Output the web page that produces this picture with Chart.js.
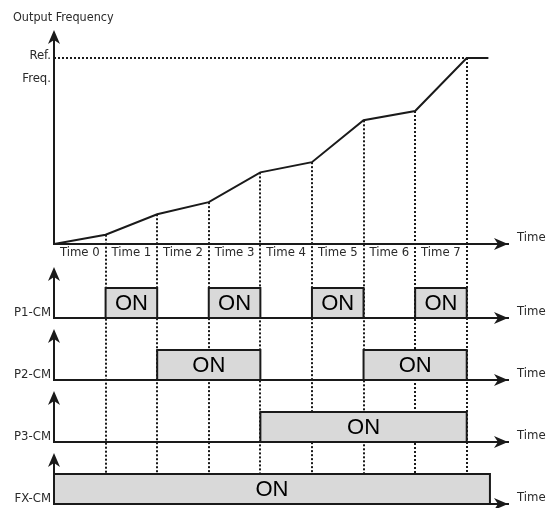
<!DOCTYPE html>
<html>
<head>
<meta charset="utf-8">
<script src="https://cdn.jsdelivr.net/npm/chart.js@4"></script>
<style>
  html, body { margin: 0; padding: 0; background: #ffffff; overflow: hidden; }
  canvas { display: block; }
</style>
</head>
<body>
<canvas id="chart" width="549" height="508"></canvas>
<script>
// ---------------- data ----------------
const times = [0, 1, 2, 3, 4, 5, 6, 7, 8];
const timeLabels = ['Time 0', 'Time 1', 'Time 2', 'Time 3', 'Time 4', 'Time 5', 'Time 6', 'Time 7'];
const freqValues = [0, 5, 16, 22.5, 38.5, 44, 66.5, 71.5, 100];
const refFreq = 100;
const refFreqLabel = ['Ref.', 'Freq.'];
const holdUntil = 8.42;
const p1Levels = [0, 1, 0, 1, 0, 1, 0, 1, 0];
const p2Levels = [0, 0, 1, 1, 0, 0, 1, 1, 0];
const p3Levels = [0, 0, 0, 0, 1, 1, 1, 1, 0];
const fxTimes = [0, 0, 8.45];
const fxLevels = [0, 1, 0];
const signalNames = ['P1-CM', 'P2-CM', 'P3-CM', 'FX-CM'];
const onText = 'ON';
const axisTitle = 'Output Frequency';
const timeAxisLabel = 'Time';

// ---------------- style ----------------
const NARROW = "'Liberation Sans Narrow', 'Arial Narrow', 'DejaVu Sans Condensed', sans-serif";
const REGULAR = "'Liberation Sans', Arial, Helvetica, sans-serif";
const INK = '#1a1a1a';
const TEXT = '#2a2a2a';
const BOX_FILL = '#d9d9d9';
const LABEL_SIZE = 13;

// panel layout (value ranges of each stacked panel)
const panels = [
  { id: 'F',  min: -12.37, max: 115.05, weight: 237, tick: refFreq, label: refFreqLabel, offset: 9 },
  { id: 'P1', min: -0.367, max: 1.7,    weight: 62,  tick: 0, label: signalNames[0], offset: -5 },
  { id: 'P2', min: -0.367, max: 1.7,    weight: 62,  tick: 0, label: signalNames[1], offset: -5 },
  { id: 'P3', min: -0.367, max: 1.7,    weight: 62,  tick: 0, label: signalNames[2], offset: -5 },
  { id: 'FX', min: -0.133, max: 1.7,    weight: 55,  tick: 0, label: signalNames[3], offset: -5 }
];

const signals = [
  { scale: 'yP1', times: times,   levels: p1Levels },
  { scale: 'yP2', times: times,   levels: p2Levels },
  { scale: 'yP3', times: times,   levels: p3Levels },
  { scale: 'yFX', times: fxTimes, levels: fxLevels }
];

const xy = (xs, ys) => xs.map((x, i) => ({ x: x, y: ys[i] }));

// contiguous ON runs of a signal -> [[start, end], ...]
function onRuns(sg) {
  const runs = [];
  let start = null;
  for (let i = 0; i < sg.levels.length; i++) {
    if (sg.levels[i] === 1 && start === null) start = sg.times[i];
    if (sg.levels[i] !== 1 && start !== null) {
      if (sg.times[i] > start) runs.push([start, sg.times[i]]);
      start = null;
    }
  }
  return runs;
}

// ---------------- scales ----------------
const scales = {};
const X_MIN = 0, X_MAX = 8.8;

scales.x = {
  type: 'linear', axis: 'x', min: X_MIN, max: X_MAX, position: { yF: 0 },
  grid: { display: false, drawTicks: false },
  border: { display: true, width: 2, color: INK, z: 1 },
  afterBuildTicks: s => { s.ticks = timeLabels.map((_, i) => ({ value: (times[i] + times[i + 1]) / 2 })); },
  ticks: {
    autoSkip: false, maxRotation: 0, minRotation: 0, padding: 1, color: TEXT,
    font: { family: NARROW, size: LABEL_SIZE },
    callback: (v, i) => timeLabels[i]
  },
  afterFit: s => { s.height = 0; s.paddingLeft = 0; s.paddingRight = 0; s.paddingTop = 0; s.paddingBottom = 0; }
};

panels.forEach((p, idx) => {
  if (p.id !== 'F') {
    scales['x' + p.id] = {
      type: 'linear', axis: 'x', min: X_MIN, max: X_MAX, position: { ['y' + p.id]: 0 },
      grid: { display: false, drawTicks: false },
      border: { display: true, width: 2, color: INK, z: 1 },
      ticks: { display: false },
      afterFit: s => { s.height = 0; s.paddingLeft = 0; s.paddingRight = 0; }
    };
  }
  scales['y' + p.id] = {
    type: 'linear', axis: 'y', position: 'left', stack: 'L', stackWeight: p.weight,
    weight: 10 - idx, min: p.min, max: p.max,
    grid: { display: false, drawTicks: false },
    border: { display: false },
    afterBuildTicks: s => { s.ticks = [{ value: p.tick }]; },
    ticks: {
      autoSkip: false, padding: 3, labelOffset: p.offset, color: TEXT,
      font: { family: NARROW, size: LABEL_SIZE, lineHeight: p.id === 'F' ? '23px' : 1.2 },
      callback: () => p.label
    },
    afterFit: s => { s.width = 41; s.paddingTop = 0; s.paddingBottom = 0; }
  };
  scales['r' + p.id] = {
    type: 'linear', axis: 'y', position: 'right', stack: 'R', stackWeight: p.weight,
    weight: idx, min: p.min, max: p.max,
    grid: { display: false, drawTicks: false },
    border: { display: false },
    afterBuildTicks: s => { s.ticks = [{ value: 0 }]; },
    ticks: {
      autoSkip: false, padding: 9, labelOffset: -6.5, color: TEXT,
      font: { family: NARROW, size: LABEL_SIZE },
      callback: () => timeAxisLabel
    },
    afterFit: s => { s.width = 41; s.paddingTop = 0; s.paddingBottom = 0; }
  };
});

// ---------------- datasets ----------------
const datasets = [
  {
    label: 'Output Frequency',
    data: xy(times.concat([holdUntil]), freqValues.concat([refFreq])),
    xAxisID: 'x', yAxisID: 'yF',
    borderColor: INK, borderWidth: 2, pointRadius: 0, tension: 0, fill: false
  },
  {
    label: 'Ref. Freq.',
    data: xy([times[0], times[times.length - 1]], [refFreq, refFreq]),
    xAxisID: 'x', yAxisID: 'yF',
    borderColor: INK, borderWidth: 2, borderDash: [2, 2], pointRadius: 0, fill: false
  }
];
signals.forEach((sg, i) => {
  datasets.push({
    label: signalNames[i],
    data: xy(sg.times, sg.levels),
    xAxisID: 'x', yAxisID: sg.scale,
    stepped: 'before', fill: 'origin', backgroundColor: BOX_FILL,
    borderColor: INK, borderWidth: 2, pointRadius: 0
  });
});

// ---------------- plugins ----------------
function upArrow(ctx, x, tip) {
  ctx.beginPath();
  ctx.moveTo(x, tip);
  ctx.lineTo(x - 6, tip + 14);
  ctx.lineTo(x, tip + 10);
  ctx.lineTo(x + 6, tip + 14);
  ctx.closePath();
  ctx.fill();
}
function rightArrow(ctx, tip, y) {
  ctx.beginPath();
  ctx.moveTo(tip, y);
  ctx.lineTo(tip - 14, y - 6);
  ctx.lineTo(tip - 10, y);
  ctx.lineTo(tip - 14, y + 6);
  ctx.closePath();
  ctx.fill();
}

const guidePlugin = {
  id: 'guides',
  beforeDatasetsDraw(chart) {
    const ctx = chart.ctx, xs = chart.scales.x, yF = chart.scales.yF, yFX = chart.scales.yFX;
    ctx.save();
    ctx.strokeStyle = INK;
    ctx.lineWidth = 2;
    ctx.setLineDash([2, 2]);
    const yEnd = yFX.getPixelForValue(1);
    for (let i = 1; i < times.length; i++) {
      const x = Math.round(xs.getPixelForValue(times[i]));
      ctx.beginPath();
      ctx.moveTo(x, yF.getPixelForValue(freqValues[i]));
      ctx.lineTo(x, yEnd);
      ctx.stroke();
    }
    ctx.restore();
  },
  afterDatasetsDraw(chart) {
    const ctx = chart.ctx, xs = chart.scales.x;
    ctx.save();
    // ON labels, one per contiguous ON run
    ctx.fillStyle = '#000';
    ctx.font = '22px ' + REGULAR;
    ctx.textAlign = 'center';
    ctx.textBaseline = 'middle';
    signals.forEach(sg => {
      const ys = chart.scales[sg.scale];
      onRuns(sg).forEach(([a, b]) => {
        const cx = (xs.getPixelForValue(a) + xs.getPixelForValue(b)) / 2;
        ctx.fillText(onText, cx, ys.getPixelForValue(0.5) + 1);
      });
    });
    // axes arrows
    ctx.strokeStyle = INK;
    ctx.fillStyle = INK;
    ctx.lineWidth = 2;
    const x0 = xs.getPixelForValue(X_MIN);
    const xEnd = xs.getPixelForValue(X_MAX);
    panels.forEach(p => {
      const ys = chart.scales['y' + p.id];
      const base = ys.getPixelForValue(0);
      const tip = ys.getPixelForValue(p.max);
      ctx.beginPath();
      ctx.moveTo(x0, base + 1);
      ctx.lineTo(x0, tip + 9);
      ctx.stroke();
      upArrow(ctx, x0, tip);
      rightArrow(ctx, xEnd, base);
    });
    ctx.restore();
  }
};

// ---------------- chart ----------------
new Chart(document.getElementById('chart'), {
  type: 'line',
  data: { datasets: datasets },
  options: {
    responsive: false,
    animation: false,
    devicePixelRatio: 1,
    layout: { padding: { left: 13, right: 0, top: 0, bottom: 0 }, autoPadding: false },
    scales: scales,
    plugins: {
      legend: { display: false },
      tooltip: { enabled: false },
      title: {
        display: true, text: axisTitle, align: 'start', color: TEXT,
        font: { family: NARROW, size: 12.5, weight: 'normal', lineHeight: 1.2 },
        padding: { top: 10.5, bottom: 4.5 }
      }
    }
  },
  plugins: [guidePlugin]
});
</script>
</body>
</html>
